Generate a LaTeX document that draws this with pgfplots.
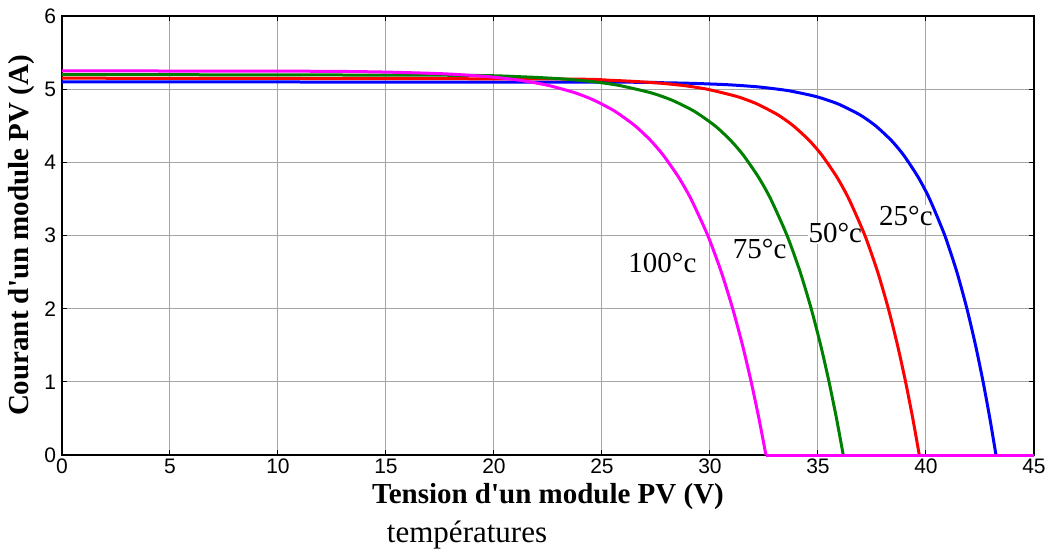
\documentclass[border=0pt]{standalone}
\usepackage{pgfplots}
\pgfplotsset{compat=1.18}
\usepackage{fontspec}
\setmainfont{Liberation Serif}
\setsansfont{Liberation Sans}
\definecolor{mgreen}{RGB}{0,128,0}
\definecolor{mmag}{RGB}{255,0,255}
\definecolor{gridc}{RGB}{165,165,165}
\begin{document}
\begin{tikzpicture}
\begin{axis}[
  at={(0,0)}, anchor=south west,
  scale only axis, width=486pt, height=219.5pt,
  xmin=0, xmax=45, ymin=0, ymax=6,
  xtick={0,5,...,45}, ytick={0,1,...,6},
  grid=major, major grid style={gridc, line width=0.5pt},
  tick align=inside, major tick length=2.5pt,
  axis line style={line width=0.8pt},
  tick style={black, line width=0.5pt},
  ticklabel style={font=\sffamily\fontsize{10.5}{12}\selectfont},
  /pgf/number format/assume math mode=true,
  xticklabel style={yshift=1.5pt},
  yticklabel style={xshift=0.5pt},
  xlabel={\bfseries Tension d\textquotesingle un module PV (V)},
  ylabel={\bfseries Courant d\textquotesingle un module PV (A)},
  label style={font=\fontsize{14.5}{16}\selectfont},
  x label style={at={(axis description cs:0.5,0)}, anchor=base, yshift=-24pt},
  y label style={at={([xshift=-20pt]axis description cs:0,0.5)}, anchor=center},
  clip=false,
  every axis plot/.append style={line width=1.5pt, mark=none, line join=round, smooth, tension=0.4},
]
\begin{scope}[every node/.style={font=\fontsize{14.5}{16}\selectfont, fill=white, inner sep=0.3pt, anchor=base}]
\node at (axis cs:27.8,2.50) {100°c};
\node at (axis cs:32.3,2.69) {75°c};
\node at (axis cs:35.8,2.90) {50°c};
\node at (axis cs:39.07,3.14) {25°c};
\end{scope}
% 25 C
\addplot[blue] coordinates {
(0,5.10)(25.666,5.095)(27.40,5.09)(29.133,5.08)(30.867,5.06)(32.267,5.03)(33.617,4.98)(34.898,4.90)(35.917,4.80)(36.938,4.65)(37.665,4.50)(38.394,4.30)(38.962,4.10)(39.633,3.80)(40.167,3.50)(40.872,3.00)(41.431,2.50)(41.895,2.00)(42.294,1.50)(42.644,1.00)(42.957,0.50)(43.24,0)};
\addplot[blue, sharp plot] coordinates {(43.24,0)(45,0)};
% 50 C
\addplot[red] coordinates {
(0,5.15)(22.51,5.14)(25.49,5.12)(27.37,5.09)(28.756,5.05)(29.857,5.00)(31.246,4.90)(32.163,4.80)(33.138,4.65)(33.856,4.50)(34.593,4.30)(35.176,4.10)(35.872,3.80)(36.43,3.50)(37.173,3.00)(37.765,2.50)(38.258,2.00)(38.682,1.50)(39.055,1.00)(39.388,0.50)(39.69,0)};
\addplot[red, sharp plot] coordinates {(39.69,0)(45,0)};
% 75 C
\addplot[mgreen] coordinates {
(0,5.20)(18.087,5.19)(21.219,5.17)(23.196,5.14)(24.654,5.10)(25.812,5.05)(27.273,4.95)(28.237,4.85)(29.261,4.70)(30.23,4.50)(30.956,4.30)(31.538,4.10)(32.24,3.80)(32.809,3.50)(33.568,3.00)(34.177,2.50)(34.686,2.00)(35.125,1.50)(35.511,1.00)(35.857,0.50)(36.17,0)};
\addplot[mgreen, sharp plot] coordinates {(36.17,0)(45,0)};
% 100 C
\addplot[mmag] coordinates {
(0,5.25)(11.458,5.245)(14.755,5.235)(17.698,5.21)(19.779,5.17)(21.239,5.12)(22.535,5.05)(23.756,4.95)(24.624,4.85)(25.587,4.70)(26.527,4.50)(27.247,4.30)(27.83,4.10)(28.54,3.80)(29.119,3.50)(29.898,3.00)(30.525,2.50)(31.051,2.00)(31.506,1.50)(31.906,1.00)(32.265,0.50)(32.59,0)};
\addplot[mmag, sharp plot] coordinates {(32.59,0)(45,0)};
\node[font=\fontsize{15.5}{17}\selectfont, anchor=base] at (rel axis cs:0.4167,0) [yshift=-43.5pt] {températures};
\end{axis}
\pgfresetboundingbox
\path (-31pt,-49pt) rectangle (494.5pt,227.5pt);
\end{tikzpicture}
\end{document}
